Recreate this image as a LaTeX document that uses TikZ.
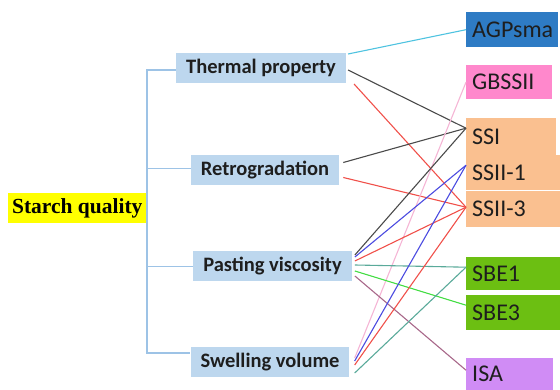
\documentclass[tikz,border=0pt]{standalone}
\usepackage{fontspec}
\setmainfont{Carlito}
\newfontfamily\timesbf{Liberation Serif}[BoldFont={* Bold}]
\usepackage{tikz}
\usetikzlibrary{arrows.meta,positioning,calc}
\definecolor{cyel}{HTML}{FFFF00}
\definecolor{cprop}{HTML}{BDD7EE}
\definecolor{ctree}{HTML}{9DC3E6}
\definecolor{cagp}{HTML}{2E7BC4}
\definecolor{cgbs}{HTML}{FF88CC}
\definecolor{cssy}{HTML}{FAC090}
\definecolor{csbe}{HTML}{6CBF12}
\definecolor{cisa}{HTML}{D08CF5}
\definecolor{ltext}{HTML}{1E1E1E}
\definecolor{lcyan}{HTML}{4FC3E0}
\definecolor{lgray}{HTML}{4A4A4A}
\definecolor{lred}{HTML}{F0504A}
\definecolor{lblue}{HTML}{4B4BE0}
\definecolor{lpink}{HTML}{F5B5D5}
\definecolor{lteal}{HTML}{5AAA9A}
\definecolor{lgreen}{HTML}{44DD44}
\definecolor{lmauve}{HTML}{A8688A}
\tikzset{
  prop/.style={fill=cprop, inner xsep=10pt, inner ysep=0pt, minimum height=30pt,
               font=\fontsize{20.5}{22}\selectfont\bfseries, text=ltext},
  gene/.style={anchor=north west, inner xsep=6pt, inner ysep=0pt, align=left,
               font=\fontsize{24}{26}\selectfont, text=ltext},
  tree/.style={draw=ctree, line width=1.2pt},
  link/.style={line width=1.1pt},
}
\begin{document}
\begin{tikzpicture}[x=1pt, y=-1pt]
  \useasboundingbox (0,0) rectangle (560,390);
  \node[fill=cyel, anchor=east, minimum width=139pt, minimum height=30pt, inner sep=0pt,
        font=\timesbf\fontsize{21.5}{23}\selectfont\bfseries] (sq) at (147,208) {Starch quality};
  \node[prop] (tp) at (261,68) {Thermal property};
  \node[prop] (rg) at (265,170.5) {Retrogradation};
  \node[prop] (pv) at (272.5,266.5) {Pasting viscosity};
  \node[prop] (sv) at (270,362) {Swelling volume};
  \node[gene, fill=cagp, text width=80pt, minimum height=35pt] (ag) at (466,12) {AGPsma};
  \node[gene, fill=cgbs, text width=74pt, minimum height=34pt] (gb) at (466,65) {GBSSII};
  \node[gene, fill=cssy, text width=78pt, minimum height=37pt] (ssi) at (466,118) {SSI};
  \node[gene, fill=cssy, text width=82pt, minimum height=35pt] (s1) at (466,155) {SSII-1};
  \node[gene, fill=cssy, text width=82pt, minimum height=36pt] (s3) at (466,191) {SSII-3};
  \node[gene, fill=csbe, text width=82pt, minimum height=33pt] (sb1) at (466,257) {SBE1};
  \node[gene, fill=csbe, text width=82pt, minimum height=35pt] (sb3) at (466,295) {SBE3};
  \node[gene, fill=cisa, text width=75pt, minimum height=32pt] (isa) at (466,358) {ISA};
  \draw[tree] ([yshift=-2pt]tp.west) -- ([yshift=-2pt]tp.west -| sq.east) |- ([yshift=9pt]sv.west);
  \draw[tree] ([yshift=2pt]rg.west) -- ([yshift=2pt]rg.west -| sq.east);
  \draw[tree] (pv.west) -- (pv.west -| sq.east);
  \draw[link, lcyan] ([xshift=2pt, yshift=14pt]tp.east) -- (ag.west);
  \draw[link, lgray] ([xshift=2pt, yshift=-2pt]tp.east) -- ([yshift=8.5pt]ssi.west);
  \draw[link, lred] ([xshift=8pt, yshift=-16pt]tp.east) -- ([yshift=2pt]s3.west);
  \draw[link, lgray] ([xshift=4pt, yshift=8pt]rg.east) -- ([yshift=8.5pt]ssi.west);
  \draw[link, lred] ([xshift=4pt, yshift=-7pt]rg.east) -- ([yshift=2pt]s3.west);
  \draw[link, lpink] ([xshift=5pt, yshift=4pt]sv.east) -- (gb.west);
  \draw[link, lgray] ([xshift=3pt, yshift=11.5pt]pv.east) -- ([yshift=8.5pt]ssi.west);
  \draw[link, lblue] ([xshift=3pt, yshift=9.5pt]pv.east) -- ([yshift=7.5pt]s1.west);
  \draw[link, lred] ([xshift=3pt, yshift=5.5pt]pv.east) -- ([yshift=2pt]s3.west);
  \draw[link, lteal] ([xshift=3pt, yshift=1.5pt]pv.east) -- ([yshift=6.5pt]sb1.west);
  \draw[link, lgreen] ([xshift=3pt, yshift=-4.5pt]pv.east) -- ([yshift=7.5pt]sb3.west);
  \draw[link, lmauve] ([xshift=3pt, yshift=-9.5pt]pv.east) -- ([yshift=4pt]isa.west);
  \draw[link, lblue] ([xshift=5pt, yshift=1pt]sv.east) -- ([yshift=7.5pt]s1.west);
  \draw[link, lred] ([xshift=5pt, yshift=-3pt]sv.east) -- ([yshift=2pt]s3.west);
  \draw[link, lteal] ([xshift=5pt, yshift=-11pt]sv.east) -- ([yshift=6.5pt]sb1.west);
\end{tikzpicture}
\end{document}
